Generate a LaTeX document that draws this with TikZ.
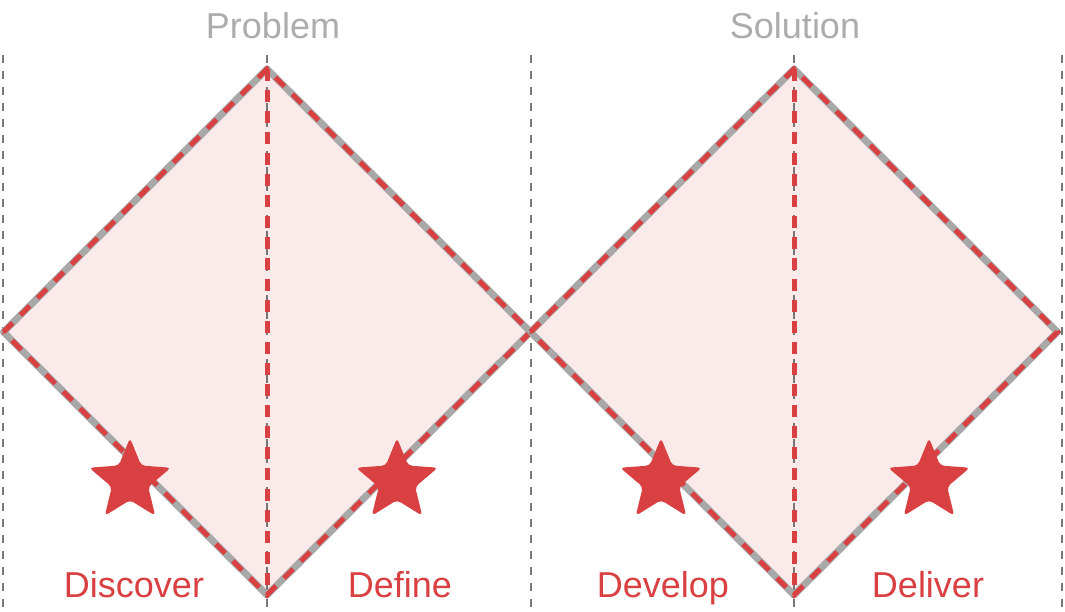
\documentclass[tikz,border=0pt]{standalone}
\usepackage{fontspec}
\setmainfont{Liberation Sans}
\usepackage{tikz}
\usetikzlibrary{shapes.geometric}
\definecolor{ddRed}{RGB}{216, 64, 66}
\definecolor{ddPink}{RGB}{251, 234, 234}
\definecolor{ddEdge}{RGB}{168, 168, 168}
\definecolor{ddGuide}{RGB}{118, 118, 118}
\definecolor{ddTitle}{RGB}{172, 172, 172}

\begin{document}
\begin{tikzpicture}[x=1pt, y=-1pt,
    guide/.style={ddGuide, line width=2.8pt, dash pattern=on 8pt off 8pt},
    edge/.style={ddEdge, line width=7pt, line join=round},
    redash/.style={ddRed, line width=5pt, dash pattern=on 13pt off 11pt},
    marker/.style={star, star points=5, star point ratio=2.25, minimum size=86pt,
                   inner sep=0pt, fill=ddRed, rounded corners=4pt},
    phase/.style={font=\fontsize{36}{36}\selectfont, text=ddRed, anchor=base},
    title/.style={font=\fontsize{36}{36}\selectfont, text=ddTitle, anchor=base}]
    \useasboundingbox (0,0) rectangle (1065,612);
    % corners of the two diamonds
    \foreach \n/\cx in {prob/267, sol/794}{
      \coordinate (\n-l) at ({\cx-263.5}, 332);
      \coordinate (\n-t) at (\cx, 69);
      \coordinate (\n-r) at ({\cx+263.5}, 332);
      \coordinate (\n-b) at (\cx, 595);
      \fill[ddPink] (\n-l) -- (\n-t) -- (\n-r) -- (\n-b) -- cycle;
    }
    % guides
    \foreach \x in {3, 267, 531, 794, 1062}{
      \draw[guide] (\x, 55) -- (\x, 612);
    }
    \foreach \n in {prob, sol}{
      \draw[edge] (\n-l) -- (\n-t) -- (\n-r) -- (\n-b) -- cycle;
      \draw[redash] (\n-l) -- (\n-t) -- (\n-r) -- (\n-b) -- cycle;
      \draw[redash, dash pattern=on 12pt off 9pt] (\n-t) -- (\n-b);
    }
    \foreach \i/\x in {1/130, 2/397, 3/661, 4/929}{
      \node[marker] (star\i) at (\x, 481) {};
    }
    \node[title] (problem) at (273, 39) {Problem};
    \node[title] (solution) at (795, 39) {Solution};
    \node[phase] (discover) at (134, 597) {Discover};
    \node[phase] (define) at (400, 597) {Define};
    \node[phase] (develop) at (663, 597) {Develop};
    \node[phase] (deliver) at (928, 597) {Deliver};
  \end{tikzpicture}
\end{document}
